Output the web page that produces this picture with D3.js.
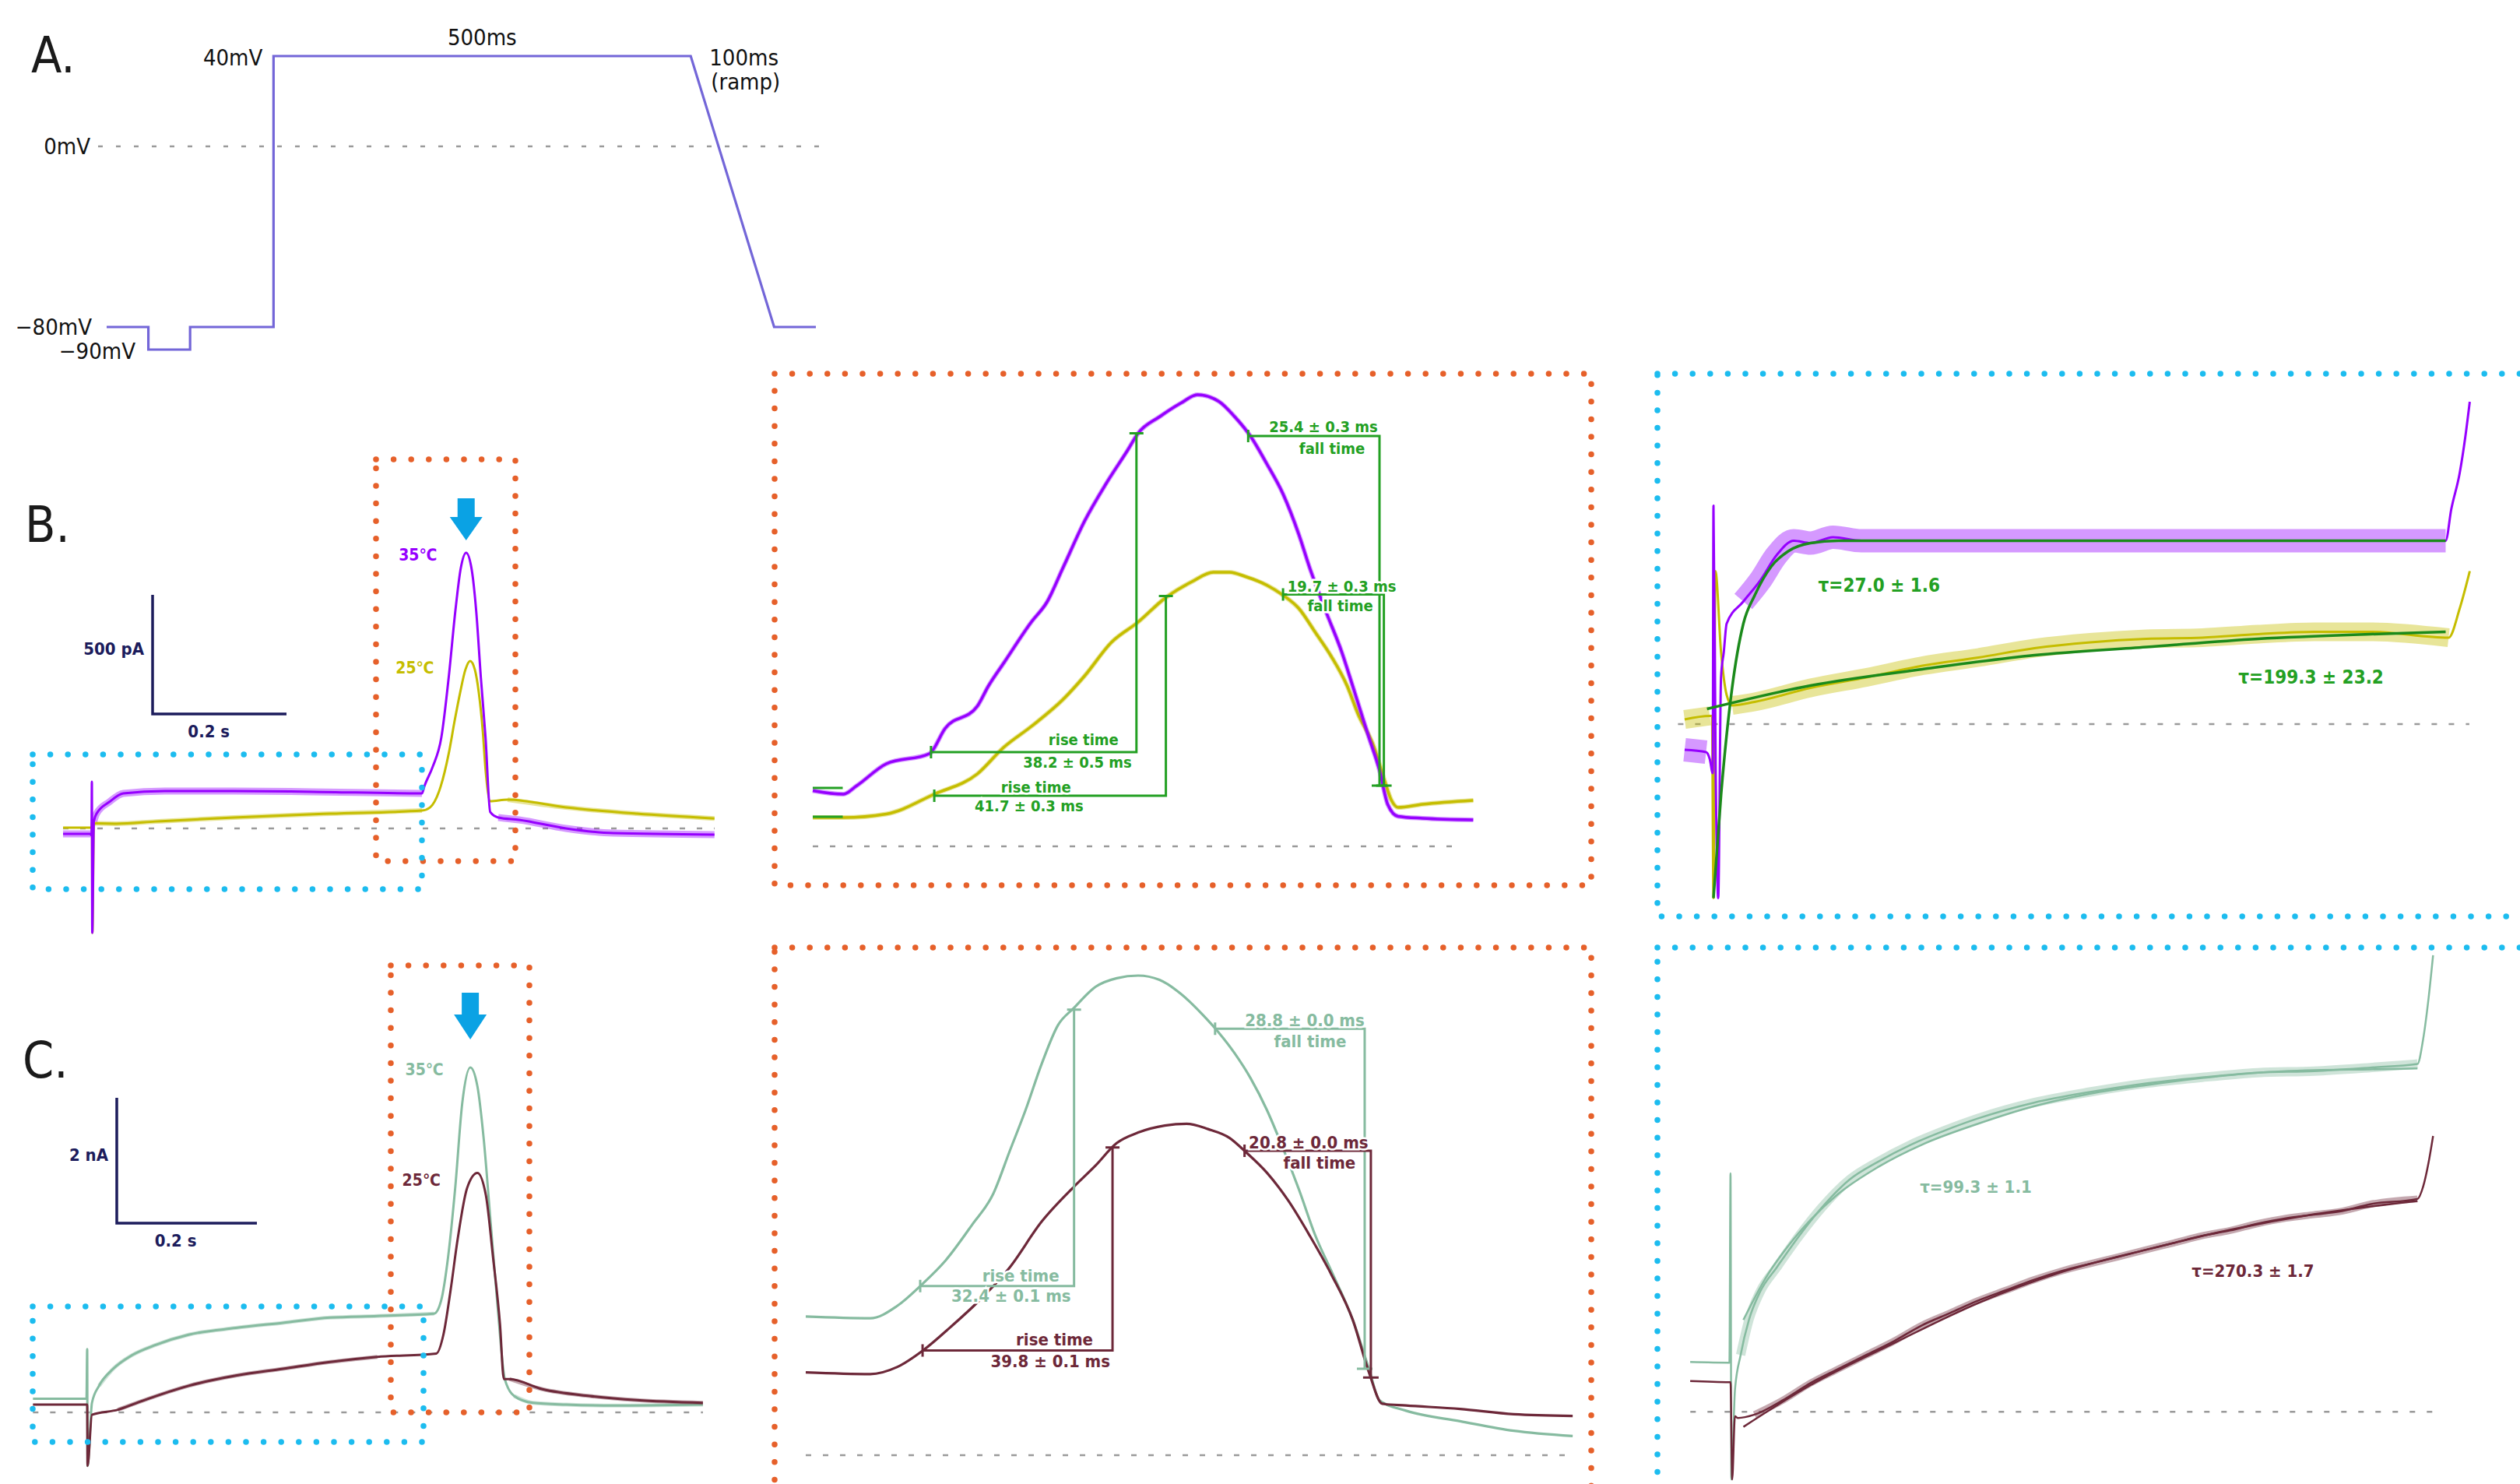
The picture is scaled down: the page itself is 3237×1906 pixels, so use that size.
<!DOCTYPE html>
<html lang="en">
<head>
<meta charset="UTF-8">
<title>Temperature dependence of currents</title>
<script src="https://cdn.jsdelivr.net/npm/d3@7"></script>
<style>
  body { margin: 0; background: #fff; }
  svg { display: block; }
  text { font-family: "Liberation Sans Narrow", "DejaVu Sans Condensed", "Noto Sans", sans-serif; }
</style>
</head>
<body>
<div id="fig"></div>
<script>
// ---------- data (times in ms, currents in pA for B and nA for C) ----------
const protoT = [0, 50, 50, 100, 100, 200, 200, 700, 800, 850];
const protoV = [-80, -80, -90, -90, -80, -80, 40, 40, -80, -80];

// B, whole sweep (t from the step to +40 mV)
const b35Trace = [[-43,-23],[-2,-23],[-0.5,-30],[0,196],[0.6,-438],[3,30],[7,62],[26,111],[47,147],[109,157],[212,157],[328,154],[493,147],[497,180],[509,258],[522,382],[533,634],[543,915],[551,1092],[559,1157],[567,1092],[574,915],[581,634],[588,382],[595,69],[607,46],[638,36],[708,0],[779,-20],[930,-26]];
const b25Trace = [[-43,3],[-2,3],[-0.5,3],[0.2,30],[0.8,-438],[3,20],[7,21],[37,20],[95,29],[212,46],[356,62],[493,75],[505,88],[521,176],[533,314],[542,454],[550,569],[558,667],[565,703],[572,667],[578,569],[584,405],[588,248],[595,114],[621,121],[708,88],[814,62],[930,42]];
// B, tail current (zoom)
const b35Tail = [[0,143],[5.6,134],[8.1,156],[13.5,212],[21.4,238],[24.3,303],[30.2,360],[32.2,411],[35.1,472],[40.1,576],[43,628],[45.9,715],[49.9,836],[53.8,931],[57.8,1018],[59.7,1061],[63.7,1104],[67.6,1139],[70.6,1160],[74.5,1143],[77.4,1104],[80.4,1052],[83.3,983],[86.3,905],[89.2,801],[91.2,715],[94.2,602],[97.1,498],[99.1,411],[102,282],[104,195],[105.5,108],[107.4,77],[111.9,72],[121.2,68]];
const b25Tail = [[0,74],[5.6,74],[13.5,83],[22.3,134],[30.2,186],[35.1,255],[40.1,308],[45.9,377],[49.9,438],[54.8,524],[59.7,576],[64.6,637],[69.6,680],[73.5,704],[76.5,704],[79.4,693],[83.3,671],[86.3,645],[89.2,611],[92.2,550],[95.1,489],[98.1,411],[100,342],[103,255],[104.9,170],[106.2,118],[107.4,100],[111.9,108],[121.2,118]];
const bRise = [[21.7, 59.4, 242, 1061], [22.3, 64.8, 130, 643]];
const bFall = [[79.9, 104, 1054, 156], [86.3, 104.8, 647, 156]];
const bRiseText = ["38.2 ± 0.5 ms", "41.7 ± 0.3 ms"];
const bFallText = ["25.4 ± 0.3 ms", "19.7 ± 0.3 ms"];
const bBaseline = [150, 76];
// B, activation during the +40 mV step (zoom)
const b35Step = [[-19.5,-22],[-5,-24],[-2.5,-30],[-0.5,-42],[0,187],[1.5,-40],[3.2,-149],[5.1,40],[7,62],[8.9,86],[20.2,105],[31.6,123],[42.9,145],[54.3,157],[65.6,155],[80.8,160],[100,157],[200,157],[300,157],[400,157],[495,157],[498.8,184],[504.5,215],[508.3,246],[511.3,276]];
const b25Step = [[-19.5,4],[-2.5,7],[-1,7],[0,-149],[1.3,131],[5.1,62],[8.9,25],[12.6,16],[27.8,19],[65.6,31],[103.5,40],[141.3,50],[179.1,57],[217,65],[254.8,70],[292.6,73],[330.5,74],[368.3,77],[406.2,79],[444,79],[497,74],[504.5,99],[511.3,131]];
const b35Fit = [[0,-149],[5.1,-61],[12.6,31],[20.2,86],[27.8,110],[39.1,135],[50.5,148],[65.6,155],[84.5,157],[495,157]];
const b25Fit = [[-4.4,13],[65.6,33],[141.3,47],[217,59],[292.6,66],[368.3,73],[444,77],[495,79]];
const bTau = ["τ=27.0 ± 1.6", "τ=199.3 ± 23.2"];

// C, whole sweep
const c35Trace = [[-77.4,0.216],[-1,0.216],[0,1.01],[0.5,-0.853],[6.8,0.152],[16.9,0.424],[37.1,0.695],[64,0.912],[97.7,1.076],[144.8,1.239],[212.1,1.347],[279.4,1.429],[346.8,1.511],[414.1,1.537],[495,1.575],[505.1,1.781],[515.2,2.488],[525.2,3.575],[535.3,4.933],[546.8,5.504],[556.9,5.205],[565.7,4.39],[575.8,3.031],[585.9,1.673],[596,0.532],[609.4,0.261],[636.3,0.152],[683.6,0.124],[750.9,0.108],[878.8,0.124]];
const c25Trace = [[-77.4,0.124],[-1,0.124],[0,0.124],[0.5,-0.853],[6.8,-0.039],[43.8,0.042],[77.4,0.179],[144.8,0.424],[212.1,0.586],[279.4,0.695],[346.8,0.804],[414.1,0.886],[498.3,0.939],[508.4,1.239],[518.6,1.945],[528.7,2.76],[542.1,3.575],[556.9,3.82],[569,3.466],[579.1,2.488],[589.2,1.401],[594.7,0.532],[602.7,0.532],[649.9,0.369],[717.2,0.261],[784.6,0.195],[878.8,0.152]];
// C, tail current (zoom)
const c35Tail = [[0,1.59],[13.6,1.57],[19.2,1.71],[24.3,1.95],[29.4,2.23],[35,2.64],[39.5,3.0],[42.9,3.48],[46.3,3.96],[49.7,4.49],[53.1,4.93],[56.5,5.13],[61,5.37],[65.5,5.47],[70,5.5],[74.5,5.45],[79,5.29],[83.6,5.05],[86.9,4.85],[90.3,4.61],[93.7,4.32],[97.1,3.96],[100.5,3.52],[103.9,3.04],[107.3,2.52],[110.7,2.11],[115.2,1.55],[118.6,0.99],[120.8,0.63],[126.4,0.51],[137.8,0.39],[149.1,0.28],[161.5,0.22]];
const c25Tail = [[0,0.95],[13.6,0.93],[19.2,1.01],[24.9,1.21],[30.5,1.47],[36.1,1.75],[42.9,2.15],[49.7,2.68],[56.5,3.08],[61,3.32],[65.5,3.58],[70,3.7],[75.6,3.78],[80.2,3.8],[84.7,3.74],[89.2,3.64],[92.6,3.48],[97.1,3.24],[101.6,2.92],[106.1,2.52],[110.7,2.07],[115.2,1.55],[118.6,0.95],[121.4,0.59],[126.4,0.57],[137.8,0.53],[149.1,0.47],[161.5,0.45]];
const cRise = [[24.1, 56.5, 1.94, 5.11], [24.6, 64.6, 1.20, 3.53]];
const cFall = [[86.2, 117.7, 4.89, 0.99], [92.4, 119.0, 3.49, 0.89]];
const cRiseText = ["32.4 ± 0.1 ms", "39.8 ± 0.1 ms"];
const cFallText = ["28.8 ± 0.0 ms", "20.8 ± 0.0 ms"];
// C, activation during the +40 mV step (zoom)
const c35Step = [[-29.1,0.224],[-0.8,0.221],[0,1.074],[0.6,-0.305],[3.2,0.098],[7.3,0.256],[13.3,0.414],[21.3,0.54],[33.4,0.651],[49.6,0.793],[65.7,0.919],[85.9,1.046],[106,1.125],[130.3,1.204],[154.5,1.267],[178.7,1.322],[219.1,1.393],[259.4,1.441],[299.9,1.48],[340.3,1.507],[380.7,1.528],[421,1.535],[461.4,1.551],[495.7,1.567],[499.8,1.678],[503.8,1.867],[507,2.057]];
const c25Step = [[-29.1,0.138],[-0.8,0.133],[0,0.133],[1.2,-0.305],[3.2,-0.02],[5.2,-0.028],[17.3,-0.013],[37.5,0.051],[57.7,0.129],[77.8,0.193],[98,0.256],[118.2,0.319],[138.3,0.39],[158.5,0.445],[178.7,0.501],[198.9,0.548],[219.1,0.595],[239.3,0.635],[259.4,0.667],[279.7,0.698],[299.9,0.73],[320.1,0.761],[340.3,0.793],[360.5,0.817],[380.7,0.848],[400.8,0.872],[421,0.888],[441.2,0.904],[461.4,0.935],[495.7,0.959],[499.8,1.014],[503.8,1.125],[507,1.243]];
const c35Fit = [[9.3,0.414],[25.4,0.603],[41.5,0.746],[57.7,0.864],[77.8,0.982],[106,1.101],[138.3,1.204],[178.7,1.298],[219.1,1.377],[259.4,1.433],[299.9,1.472],[340.3,1.504],[380.7,1.528],[421,1.539],[461.4,1.543],[495.7,1.547]];
const c25Fit = [[9.3,-0.068],[57.7,0.12],[118.2,0.31],[178.7,0.49],[239.3,0.63],[299.9,0.73],[360.5,0.82],[421,0.89],[495.7,0.95]];
const cTau = ["τ=99.3 ± 1.1", "τ=270.3 ± 1.7"];

const tempText = ["35℃", "25℃"];

// ---------- drawing ----------
const W = 3237, H = 1906;
const col = {
  proto: "#7366d8", b35: "#9600ff", b25: "#c5bd00", annB: "#23a023", fitB: "#1b8a1b",
  c35: "#86bba0", c25: "#6d2839", orange: "#e6602a", blue: "#1cbcef", arrow: "#0aa2e4",
  dash: "#9a9a9a", bar: "#1c1c5c"
};

const svg = d3.select("#fig").append("svg").attr("width", W).attr("height", H);
svg.append("rect").attr("width", W).attr("height", H).attr("fill", "#fff");

// band = width of the noise strip, drawn only over the [from, to] time windows
function trace(data, x, y, color, w, band, windows) {
  const line = d3.line().x(d => x(d[0])).y(d => y(d[1])).curve(d3.curveMonotoneX);
  if (band) {
    windows.forEach(([a, b]) => {
      svg.append("path").datum(data.filter(d => d[0] >= a && d[0] <= b)).attr("d", line)
        .attr("fill", "none").attr("stroke", color).attr("stroke-width", band)
        .attr("stroke-opacity", 0.4).attr("stroke-linejoin", "round").attr("stroke-linecap", "butt");
    });
  }
  svg.append("path").datum(data).attr("d", line).attr("fill", "none")
    .attr("stroke", color).attr("stroke-width", w).attr("stroke-linejoin", "round");
}

function zeroLine(x, y, t0, t1) {
  svg.append("line").attr("x1", x(t0)).attr("x2", x(t1)).attr("y1", y(0)).attr("y2", y(0))
    .attr("stroke", col.dash).attr("stroke-width", 2.5).attr("stroke-dasharray", "7 15");
}

function dotBox(x0, y0, x1, y1, color) {
  svg.append("rect").attr("x", x0).attr("y", y0).attr("width", x1 - x0).attr("height", y1 - y0)
    .attr("fill", "none").attr("stroke", color).attr("stroke-width", 7.5)
    .attr("stroke-linecap", "round").attr("stroke-dasharray", "0 22.6");
}

function label(x, y, txt, o) {
  const t = svg.append("text").attr("x", x).attr("y", y).text(txt)
    .attr("fill", o.color || "#111").attr("font-size", o.size || 20)
    .attr("font-weight", o.weight || "normal").attr("text-anchor", o.anchor || "start")
    .attr("dominant-baseline", o.base || "central");
  if (o.halo) t.attr("stroke", "#fff").attr("stroke-width", 5).attr("paint-order", "stroke");
  return t;
}

function path(d, color, w) {
  svg.append("path").attr("d", d).attr("fill", "none").attr("stroke", color)
    .attr("stroke-width", w).attr("stroke-linejoin", "miter");
}

function riseMark(a, x, y, color, w) {
  const X0 = x(a[0]), X1 = x(a[1]), YL = y(a[2]), YH = y(a[3]);
  path(`M${X0},${YL}H${X1}V${YH}`, color, w);
  path(`M${X0},${YL - 8}V${YL + 8}M${X1 - 9},${YH}H${X1 + 9}`, color, w);
  return [X1, YL];
}

function fallMark(a, x, y, color, w) {
  const X0 = x(a[0]), X1 = x(a[1]), YH = y(a[2]), YL = y(a[3]);
  path(`M${X0},${YH}H${X1}V${YL}`, color, w);
  path(`M${X0},${YH - 8}V${YH + 8}M${X1 - 10},${YL}H${X1 + 10}`, color, w);
  return [X1, YH];
}

function arrow(cx, y0, y1, y2) {
  svg.append("path").attr("fill", col.arrow)
    .attr("d", `M${cx - 11},${y0}H${cx + 11}V${y1}H${cx + 21}L${cx},${y2}L${cx - 21},${y1}H${cx - 11}Z`);
}

function scaleBar(ox, oy, x, y, tLen, iLen, yText, xText) {
  const dx = x(tLen) - x(0), dy = y(0) - y(iLen);
  path(`M${ox},${oy - dy}V${oy}H${ox + dx}`, col.bar, 3.5);
  label(ox - 11, oy - dy / 2 - 7, yText, { color: col.bar, size: 22, weight: "bold", anchor: "end" });
  label(ox + dx * 0.42, oy + 22, xText, { color: col.bar, size: 22, weight: "bold", anchor: "middle" });
}

const letter = { size: 64, color: "#1a1a1a", base: "alphabetic" };

// ---------- panel A : voltage protocol ----------
const xA = d3.scaleLinear().domain([0, 850]).range([137, 1048]);
const yA = d3.scaleLinear().domain([-80, 40]).range([420, 72]);
svg.append("line").attr("x1", 126).attr("x2", 1060).attr("y1", yA(0)).attr("y2", yA(0))
  .attr("stroke", col.dash).attr("stroke-width", 2.5).attr("stroke-dasharray", "6 17");
svg.append("path").datum(protoT.map((t, i) => [t, protoV[i]]))
  .attr("d", d3.line().x(d => xA(d[0])).y(d => yA(d[1])))
  .attr("fill", "none").attr("stroke", col.proto).attr("stroke-width", 3.2);
label(40, 93, "A.", letter);
const aTxt = { size: 29, color: "#111" };
label(xA(200) - 14, yA(40) + 2, "40mV", { ...aTxt, anchor: "end" });
label(xA(450), yA(40) - 24, "500ms", { ...aTxt, anchor: "middle" });
label(xA(700) + 24, yA(40) + 2, "100ms", aTxt);
label(xA(700) + 26, yA(40) + 33, "(ramp)", aTxt);
label(116, yA(0), "0mV", { ...aTxt, anchor: "end" });
label(118, yA(-80), "−80mV", { ...aTxt, anchor: "end" });
label(174, yA(-90) + 2, "−90mV", { ...aTxt, anchor: "end" });

// ---------- panel B ----------
const xLB = d3.scaleLinear().domain([0, 200]).range([118, 290]);
const yLB = d3.scaleLinear().domain([0, 500]).range([1064, 911]);
zeroLine(xLB, yLB, -43, 930);
trace(b25Trace, xLB, yLB, col.b25, 3, 6, [[3, 500], [600, 930]]);
trace(b35Trace, xLB, yLB, col.b35, 3, 9, [[-43, -2], [3, 495], [600, 930]]);
dotBox(483, 590, 662, 1106, col.orange);
dotBox(42, 969, 542, 1142, col.blue);
arrow(xLB(559), 640, 664, 694);
label(xLB(559) - 62, yLB(1157) + 3, tempText[0], { color: col.b35, size: 21, weight: "bold", anchor: "middle" });
label(xLB(565) - 71, yLB(703) + 9, tempText[1], { color: col.b25, size: 21, weight: "bold", anchor: "middle" });
scaleBar(196, 917, xLB, yLB, 200, 500, "500 pA", "0.2  s");
label(32, 696, "B.", letter);

// B tail (zoom)
const xMB = d3.scaleLinear().domain([0, 100]).range([1044, 1744]);
const yMB = d3.scaleLinear().domain([0, 1000]).range([1087, 587]);
zeroLine(xMB, yMB, 0, 119.3);
trace(b25Tail, xMB, yMB, col.b25, 3.5, 6, [[0, 122]]);
trace(b35Tail, xMB, yMB, col.b35, 3.5, 6, [[0, 122]]);
bBaseline.forEach(v => path(`M${xMB(0)},${yMB(v)}H${xMB(5.5)}`, col.annB, 3));
const bt = { color: col.annB, size: 20, weight: "bold", halo: true };
{
  let p = riseMark(bRise[0], xMB, yMB, col.annB, 3);
  label(p[0] - 23, p[1] - 16, "rise time", { ...bt, anchor: "end" });
  label(p[0] - 6, p[1] + 13, bRiseText[0], { ...bt, anchor: "end" });
  p = riseMark(bRise[1], xMB, yMB, col.annB, 3);
  label(p[0] - 122, p[1] - 11, "rise time", { ...bt, anchor: "end" });
  label(p[0] - 106, p[1] + 13, bRiseText[1], { ...bt, anchor: "end" });
  p = fallMark(bFall[0], xMB, yMB, col.annB, 3);
  label(p[0] - 72, p[1] - 12, bFallText[0], { ...bt, anchor: "middle" });
  label(p[0] - 61, p[1] + 16, "fall time", { ...bt, anchor: "middle" });
  p = fallMark(bFall[1], xMB, yMB, col.annB, 3);
  label(p[0] - 54, p[1] - 11, bFallText[1], { ...bt, anchor: "middle" });
  label(p[0] - 56, p[1] + 14, "fall time", { ...bt, anchor: "middle" });
}
dotBox(995, 480, 2044, 1137, col.orange);

// B step (zoom)
const xRB = d3.scaleLinear().domain([0, 500]).range([2201, 3151]);
const yRB = d3.scaleLinear().domain([0, 100]).range([930, 780]);
zeroLine(xRB, yRB, -24, 511);
trace(b25Step, xRB, yRB, col.b25, 3, 24, [[-19.5, -1.5], [12, 497]]);
trace(b35Step, xRB, yRB, col.b35, 3, 30, [[-19.5, -3], [9, 495]]);
trace(b35Fit, xRB, yRB, col.fitB, 3.5);
trace(b25Fit, xRB, yRB, col.fitB, 3.5);
label(xRB(112), yRB(119), bTau[0], { color: col.annB, size: 24, weight: "bold", anchor: "middle" });
label(xRB(404), yRB(40), bTau[1], { color: col.annB, size: 24, weight: "bold", anchor: "middle" });
dotBox(2129, 480, 3320, 1177, col.blue);

// ---------- panel C ----------
const xLC = d3.scaleLinear().domain([0, 200]).range([112, 292]);
const yLC = d3.scaleLinear().domain([0, 2]).range([1814, 1653]);
zeroLine(xLC, yLC, -77.4, 878.8);
trace(c35Trace, xLC, yLC, col.c35, 3, 5, [[7, 495], [600, 879]]);
trace(c25Trace, xLC, yLC, col.c25, 3, 5, [[7, 498], [600, 879]]);
dotBox(502, 1240, 680, 1814, col.orange);
dotBox(42, 1678, 544, 1852, col.blue);
arrow(xLC(546.8), 1275, 1303, 1335);
label(xLC(546.8) - 59, yLC(5.504) + 3, tempText[0], { color: col.c35, size: 21, weight: "bold", anchor: "middle" });
label(xLC(556.9) - 72, yLC(3.82) + 10, tempText[1], { color: col.c25, size: 21, weight: "bold", anchor: "middle" });
scaleBar(150, 1571, xLC, yLC, 200, 2, "2 nA", "0.2  s");
label(29, 1384, "C.", letter);

// C tail (zoom)
const xMC = d3.scaleLinear().domain([0, 100]).range([1035, 1645]);
const yMC = d3.scaleLinear().domain([0, 5]).range([1869, 1309]);
zeroLine(xMC, yMC, 0, 161.5);
trace(c35Tail, xMC, yMC, col.c35, 3.2);
trace(c25Tail, xMC, yMC, col.c25, 3.2);
{
  const g = { color: col.c35, size: 22, weight: "600", halo: true };
  const m = { color: col.c25, size: 22, weight: "600", halo: true };
  let p = riseMark(cRise[0], xMC, yMC, col.c35, 3);
  label(p[0] - 19, p[1] - 13, "rise time", { ...g, anchor: "end" });
  label(p[0] - 4, p[1] + 13, cRiseText[0], { ...g, anchor: "end" });
  p = riseMark(cRise[1], xMC, yMC, col.c25, 3);
  label(p[0] - 25, p[1] - 14, "rise time", { ...m, anchor: "end" });
  label(p[0] - 3, p[1] + 14, cRiseText[1], { ...m, anchor: "end" });
  p = fallMark(cFall[0], xMC, yMC, col.c35, 3);
  label(p[0] - 77, p[1] - 11, cFallText[0], { ...g, anchor: "middle" });
  label(p[0] - 70, p[1] + 16, "fall time", { ...g, anchor: "middle" });
  p = fallMark(cFall[1], xMC, yMC, col.c25, 3);
  label(p[0] - 80, p[1] - 11, cFallText[1], { ...m, anchor: "middle" });
  label(p[0] - 66, p[1] + 15, "fall time", { ...m, anchor: "middle" });
}
dotBox(995, 1217, 2044, 1990, col.orange);

// C step (zoom)
const xRC = d3.scaleLinear().domain([0, 500]).range([2222.9, 3112.9]);
const yRC = d3.scaleLinear().domain([0, 1]).range([1813.2, 1528.2]);
zeroLine(xRC, yRC, -29, 507);
trace(c35Step, xRC, yRC, col.c35, 2.5, 12, [[-29.1, -1], [6, 496]]);
trace(c25Step, xRC, yRC, col.c25, 2.5, 9, [[-29.1, -1], [6, 496]]);
trace(c35Fit, xRC, yRC, col.c35, 2.5);
trace(c25Fit, xRC, yRC, col.c25, 2.5);
label(xRC(177), yRC(1.014), cTau[0], { color: col.c35, size: 22, weight: "bold", anchor: "middle" });
label(xRC(377), yRC(0.635), cTau[1], { color: col.c25, size: 22, weight: "bold", anchor: "middle" });
dotBox(2129, 1217, 3320, 1990, col.blue);
</script>
</body>
</html>
